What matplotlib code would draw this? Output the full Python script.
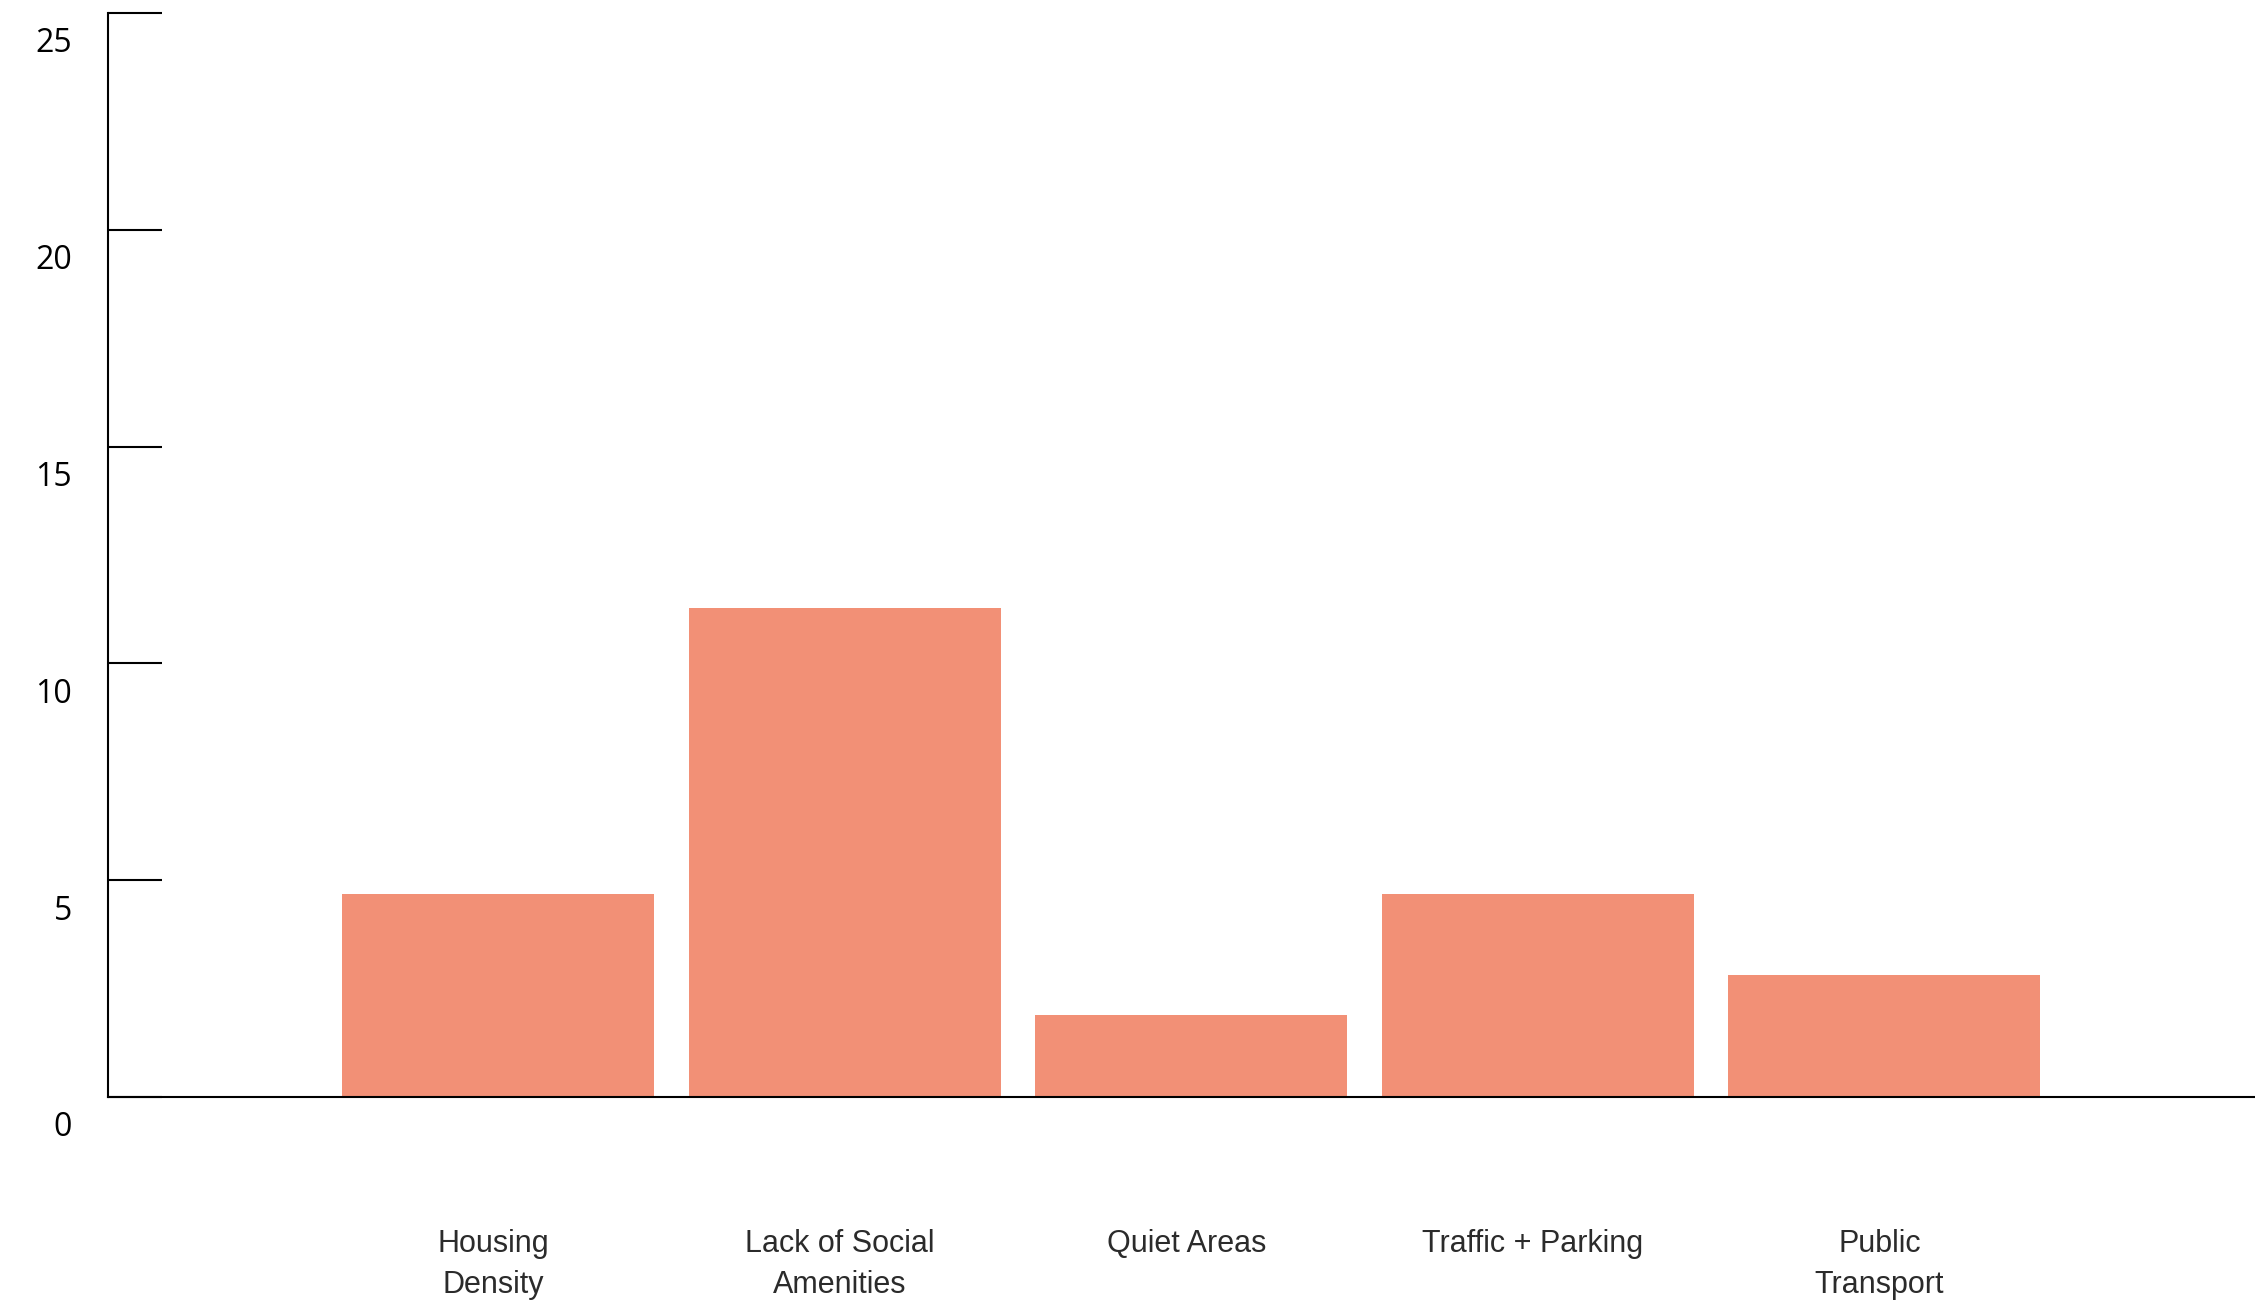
#!/usr/bin/env python3
"""Bar chart: neighbourhood concerns (single series)."""
import matplotlib
matplotlib.use("Agg")
import matplotlib.pyplot as plt
from matplotlib.transforms import ScaledTranslation

CATEGORIES = ["Housing\nDensity", "Lack of Social\nAmenities", "Quiet Areas",
              "Traffic + Parking", "Public\nTransport"]
VALUES = [4.69, 11.27, 1.88, 4.69, 2.81]
Y_TICKS = [0, 5, 10, 15, 20, 25]

BAR_COLOR = "#f29076"


def main():
    fig = plt.figure(figsize=(22.55, 13.06), dpi=100)
    ax = fig.add_axes([108 / 2255, 1 - 1097 / 1306, 1 - 108 / 2255, (1097 - 13) / 1306])

    x = list(range(len(CATEGORIES)))
    ax.bar(x, VALUES, width=0.9, color=BAR_COLOR, zorder=1)

    ax.set_xlim(-1.125, 5.069)
    ax.set_ylim(0, 25)

    for side in ("top", "right"):
        ax.spines[side].set_visible(False)
    ax.spines["left"].set_linewidth(1.5)
    ax.spines["bottom"].set_linewidth(1.5)
    ax.spines["bottom"].set_zorder(3)

    # y ticks point inward, labels sit a bit below their tick
    ax.set_yticks(Y_TICKS)
    ax.set_yticklabels([str(v) for v in Y_TICKS])
    ax.tick_params(axis="y", direction="in", length=39, width=1.5, pad=26,
                   labelsize=23)
    for lab in ax.get_yticklabels():
        lab.set_fontfamily(["Open Sans", "DejaVu Sans"])
        lab.set_transform(lab.get_transform()
                          + ScaledTranslation(0, -27 / 100, fig.dpi_scale_trans))

    ax.set_xticks(x)
    ax.set_xticklabels(CATEGORIES, fontsize=22, color="#2b2b2b",
                       family=["Liberation Sans", "DejaVu Sans"], linespacing=1.5)
    ax.tick_params(axis="x", length=0, pad=95)
    for lab in ax.get_xticklabels():
        lab.set_transform(lab.get_transform()
                          + ScaledTranslation(-0.05, 0, fig.dpi_scale_trans))

    fig.savefig("out.png", dpi=100)
    plt.close(fig)


if __name__ == "__main__":
    main()
